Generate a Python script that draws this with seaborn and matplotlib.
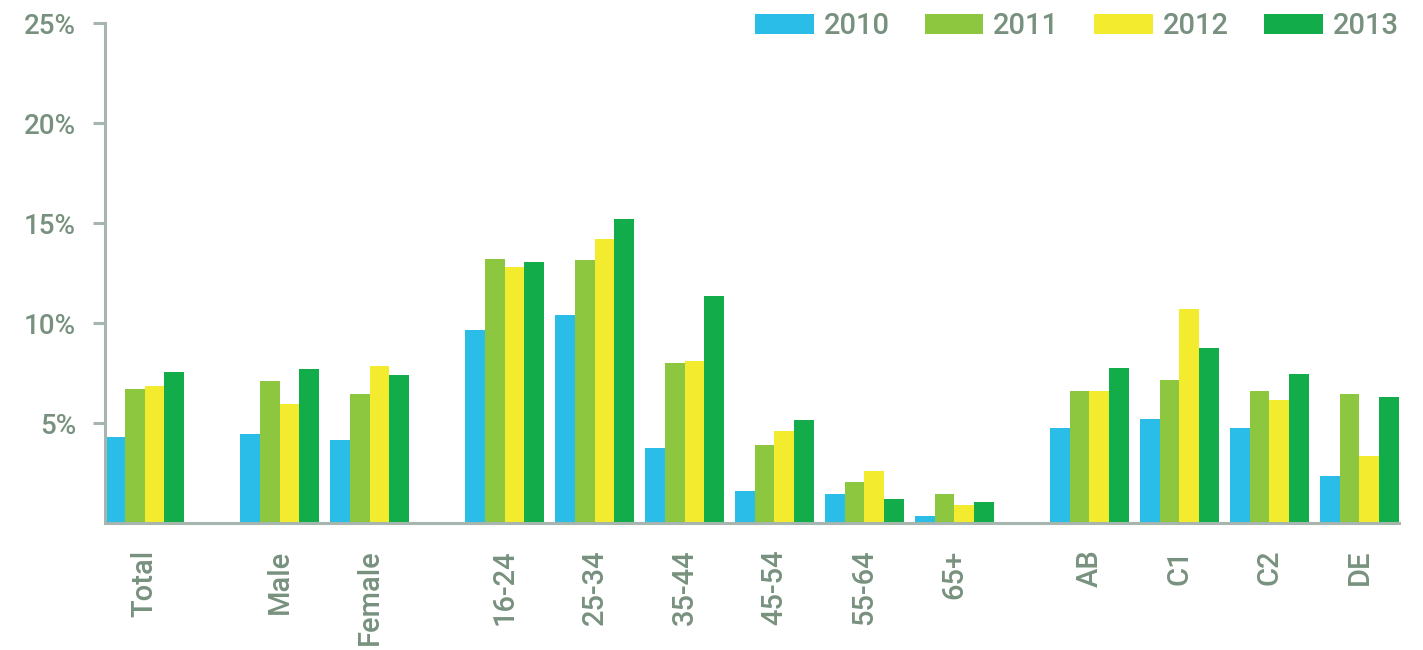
import numpy as np
import pandas as pd
import seaborn as sns
import matplotlib.pyplot as plt

# ---------------- data ----------------
kategoriler = ['Total', 'Male', 'Female',
               '16-24', '25-34', '35-44', '45-54', '55-64', '65+',
               'AB', 'C1', 'C2', 'DE']
gruplar = ['all', 'gender', 'gender',
           'age', 'age', 'age', 'age', 'age', 'age',
           'sec', 'sec', 'sec', 'sec']
yillar = ['2010', '2011', '2012', '2013']

y2010 = [4.3, 4.45, 4.15, 9.65, 10.4, 3.75, 1.6, 1.45, 0.35, 4.75, 5.2, 4.75, 2.35]
y2011 = [6.7, 7.1, 6.45, 13.2, 13.15, 8.0, 3.9, 2.05, 1.45, 6.6, 7.15, 6.6, 6.45]
y2012 = [6.85, 5.95, 7.85, 12.8, 14.2, 8.1, 4.6, 2.6, 0.9, 6.6, 10.7, 6.15, 3.35]
y2013 = [7.55, 7.7, 7.4, 13.05, 15.2, 11.35, 5.15, 1.2, 1.05, 7.75, 8.75, 7.45, 6.3]

renkler = {'2010': '#29bde8', '2011': '#8dc63f', '2012': '#f3ec2e', '2013': '#12ac4b'}
yazi_rengi = '#78917f'
eksen_rengi = '#a6b5ae'

# x positions: one slot per category, half slot extra between groups
konum = []
x = 0.0
for i, g in enumerate(gruplar):
    if i > 0:
        x += 1.5 if g != gruplar[i - 1] else 1.0
    konum.append(x)

df = pd.DataFrame({'Kategori': kategoriler, 'x': konum,
                   '2010': y2010, '2011': y2011, '2012': y2012, '2013': y2013})
df_long = df.melt(id_vars=['Kategori', 'x'], value_vars=yillar,
                  var_name='Yil', value_name='Deger')

# ---------------- figure ----------------
sns.set_style('white')
plt.rcParams['font.family'] = ['Roboto', 'DejaVu Sans']
plt.rcParams['font.weight'] = 'medium'

fig = plt.figure(figsize=(14.23, 6.5), dpi=100)
ax = fig.add_axes([105 / 1423, 127 / 650, (1399 - 105) / 1423, 500 / 650])

sns.barplot(data=df_long, x='x', y='Deger', hue='Yil', hue_order=yillar,
            palette=renkler, native_scale=True, width=0.88,
            saturation=1, linewidth=0, ax=ax)

ax.set_xlim(konum[0] - 0.44, konum[-1] + 0.44)
ax.set_ylim(0, 25)
ax.set_xticks(konum)
ax.set_xticklabels(kategoriler, rotation=90, va='top', ha='center')
ax.set_yticks([5, 10, 15, 20, 25])
ax.set_yticklabels(['5%', '10%', '15%', '20%', '25%'])
ax.set_xlabel('')
ax.set_ylabel('')

for s in ['top', 'right']:
    ax.spines[s].set_visible(False)
for s in ['left', 'bottom']:
    ax.spines[s].set_color(eksen_rengi)
    ax.spines[s].set_linewidth(2.2)

ax.tick_params(axis='y', length=9, width=2.2, color=eksen_rengi, pad=12,
               labelsize=20, labelcolor=yazi_rengi, left=True)
ax.tick_params(axis='x', length=0, pad=19, labelsize=21, labelcolor=yazi_rengi)

leg = ax.legend(loc='upper right', bbox_to_anchor=(1399 / 1423, 638 / 650),
                bbox_transform=fig.transFigure, ncol=4, frameon=False,
                fontsize=21, handlelength=2.02, handleheight=0.68,
                handletextpad=0.34, columnspacing=1.2,
                borderpad=0, borderaxespad=0)
for t in leg.get_texts():
    t.set_color(yazi_rengi)

fig.savefig('out.png', dpi=100)
